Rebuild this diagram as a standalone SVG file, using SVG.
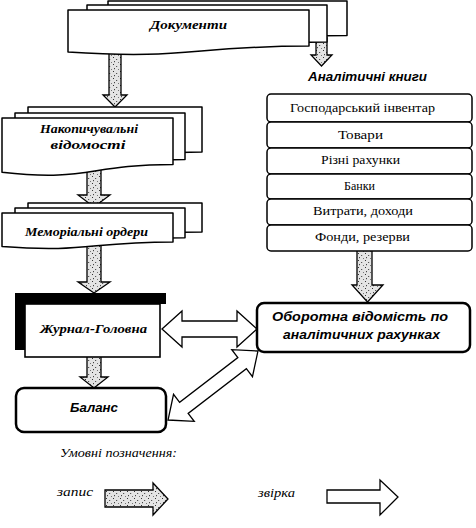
<svg xmlns="http://www.w3.org/2000/svg" width="476" height="528" viewBox="0 0 476 528">
<style>
.pg{fill:#fff;stroke:#000;stroke-width:1.5;stroke-linejoin:round}
.row{fill:#fff;stroke:#000;stroke-width:1.5}
.bx{fill:#fff;stroke:#000;stroke-width:2.5}
.rec{fill:url(#spk);stroke:#000;stroke-width:1.3;stroke-linejoin:miter}
.chk{fill:#fff;stroke:#000;stroke-width:1.3;stroke-linejoin:miter}
.tsb{font-weight:bold;font-style:italic;font-size:12px;text-anchor:middle;fill:#000}
.tss{font-weight:bold;font-style:italic;font-size:12px;text-anchor:middle;fill:#000}
.tr{font-size:13px;text-anchor:middle;fill:#000}
.ti{font-style:italic;font-size:12px;fill:#000}
</style>
<defs>
<pattern id="spk" width="7" height="7" patternUnits="userSpaceOnUse">
<rect width="7" height="7" fill="#e4e4e4"/>
<rect x="1" y="1" width="1" height="1" fill="#333"/>
<rect x="4" y="3" width="1.2" height="1" fill="#555"/>
<rect x="2" y="5" width="1" height="1.2" fill="#444"/>
<rect x="6" y="6" width="1" height="1" fill="#777"/>
</pattern>
</defs>
<g id="connectors">
<polygon class="rec" points="109,45 121,45 121,95 127,95 115,107 103,95 109,95"/>
<polygon class="rec" points="316,38 327,38 327,55 332,55 321.5,66 311,55 316,55"/>
<polygon class="rec" points="87,165 101,165 101,195 110,195 94,207 78,195 87,195"/>
<polygon class="rec" points="87,242 101,242 101,282 110,282 94,293 78,282 87,282"/>
<polygon class="rec" points="87,355 101,355 101,377 108,377 94,388 80,377 87,377"/>
<polygon class="rec" points="357,250 372,250 372,285 383,285 367.5,302 352,285 357,285"/>
<polygon class="chk" points="162,329 182,311 182,321 237,321 237,311 257,329 237,347 237,337 182,337 182,347"/>
<polygon class="chk" transform="translate(213,385.5) rotate(-37.5)" points="-56.7,0 -36.7,-17 -36.7,-7 36.7,-7 36.7,-17 56.7,0 36.7,17 36.7,7 -36.7,7 -36.7,17"/>
</g>
<g id="documents">
<path class="pg" d="M108,1 H347 V35.5 C227.5,35.5 227.5,48.6 108,41.2 Z"/>
<path class="pg" d="M87,5 H327 V41.9 C207,41.9 207,55.9 87,48 Z"/>
<path class="pg" d="M68,10 H309 V46.1 C188.5,46.1 188.5,59.8 68,52 Z"/>
<text class="tsb" font-family="'Liberation Serif','Times New Roman',serif" x="188.5" y="29" textLength="77" lengthAdjust="spacingAndGlyphs">Документи</text>
</g>
<g id="nakopych">
<path class="pg" d="M28,107 H202 V152 C115,152 115,169 28,159.3 Z"/>
<path class="pg" d="M15,113 H185 V159.5 C100,159.5 100,177.2 15,167.2 Z"/>
<path class="pg" d="M2,118 H173 V164.5 C87.5,164.5 87.5,182.2 2,172.2 Z"/>
<text class="tsb" font-family="'Liberation Serif','Times New Roman',serif" x="89" y="133" textLength="98" lengthAdjust="spacingAndGlyphs">Накопичувальні</text>
<text class="tsb" font-family="'Liberation Serif','Times New Roman',serif" x="88" y="149" textLength="75" lengthAdjust="spacingAndGlyphs">відомості</text>
</g>
<g id="memorial">
<path class="pg" d="M28,203 H202 V231.9 C115,231.9 115,242.9 28,236.6 Z"/>
<path class="pg" d="M15,208 H185 V237.7 C100,237.7 100,249 15,242.6 Z"/>
<path class="pg" d="M2,213 H173 V241.9 C87.5,241.9 87.5,252.9 2,246.6 Z"/>
<text class="tsb" font-family="'Liberation Serif','Times New Roman',serif" x="86.5" y="236" textLength="123" lengthAdjust="spacingAndGlyphs">Меморіальні ордери</text>
</g>
<g id="journal">
<rect x="17" y="293" width="149" height="11" fill="#000"/>
<rect x="15" y="293" width="11" height="57" fill="#000"/>
<rect x="25" y="304" width="135" height="53" fill="#fff" stroke="#000" stroke-width="1.6"/>
<text class="tsb" font-family="'Liberation Serif','Times New Roman',serif" x="93.5" y="333" textLength="107" lengthAdjust="spacingAndGlyphs">Журнал-Головна</text>
</g>
<g id="balance">
<rect class="bx" x="16" y="388" width="150" height="44" rx="8"/>
<text class="tss" font-family="'Liberation Sans',Arial,sans-serif" x="94" y="412" textLength="48" lengthAdjust="spacingAndGlyphs">Баланс</text>
</g>
<g id="analytic-books">
<text class="tss" font-family="'Liberation Sans',Arial,sans-serif" x="367.5" y="81" textLength="119" lengthAdjust="spacingAndGlyphs">Аналітичні книги</text>
<rect class="row" x="267" y="94" width="205" height="28" rx="4"/>
<rect class="row" x="267" y="122" width="205" height="26" rx="4"/>
<rect class="row" x="267" y="148" width="205" height="26" rx="4"/>
<rect class="row" x="267" y="174" width="205" height="25" rx="4"/>
<rect class="row" x="267" y="199" width="205" height="26" rx="4"/>
<rect class="row" x="267" y="225" width="205" height="26" rx="4"/>
<g font-family="'Liberation Serif','Times New Roman',serif">
<text class="tr" x="362.5" y="112" textLength="145" lengthAdjust="spacingAndGlyphs">Господарський інвентар</text>
<text class="tr" x="360.5" y="139" textLength="45" lengthAdjust="spacingAndGlyphs">Товари</text>
<text class="tr" x="360.5" y="164" textLength="79" lengthAdjust="spacingAndGlyphs">Різні рахунки</text>
<text class="tr" x="359.5" y="190" textLength="31" lengthAdjust="spacingAndGlyphs">Банки</text>
<text class="tr" x="363" y="215" textLength="100" lengthAdjust="spacingAndGlyphs">Витрати, доходи</text>
<text class="tr" x="362.5" y="241" textLength="95" lengthAdjust="spacingAndGlyphs">Фонди, резерви</text>
</g>
</g>
<g id="turnover">
<rect class="bx" x="257" y="303" width="213" height="49" rx="7"/>
<text class="tss" font-family="'Liberation Sans',Arial,sans-serif" x="360" y="321" textLength="176" lengthAdjust="spacingAndGlyphs">Оборотна відомість по</text>
<text class="tss" font-family="'Liberation Sans',Arial,sans-serif" x="361.5" y="339" textLength="157" lengthAdjust="spacingAndGlyphs">аналітичних рахунках</text>
</g>
<g id="legend" font-family="'Liberation Serif','Times New Roman',serif">
<text class="ti" x="60" y="457" textLength="117" lengthAdjust="spacingAndGlyphs">Умовні позначення:</text>
<text class="ti" x="57" y="496" textLength="36" lengthAdjust="spacingAndGlyphs">запис</text>
<polygon class="rec" points="105,490 153,490 153,483 168,499 153,515 153,507 105,507"/>
<text class="ti" x="258" y="497" textLength="37" lengthAdjust="spacingAndGlyphs">звірка</text>
<polygon class="chk" points="327,490 380,490 380,480 398,497 380,515 380,503 327,503"/>
</g>
</svg>
